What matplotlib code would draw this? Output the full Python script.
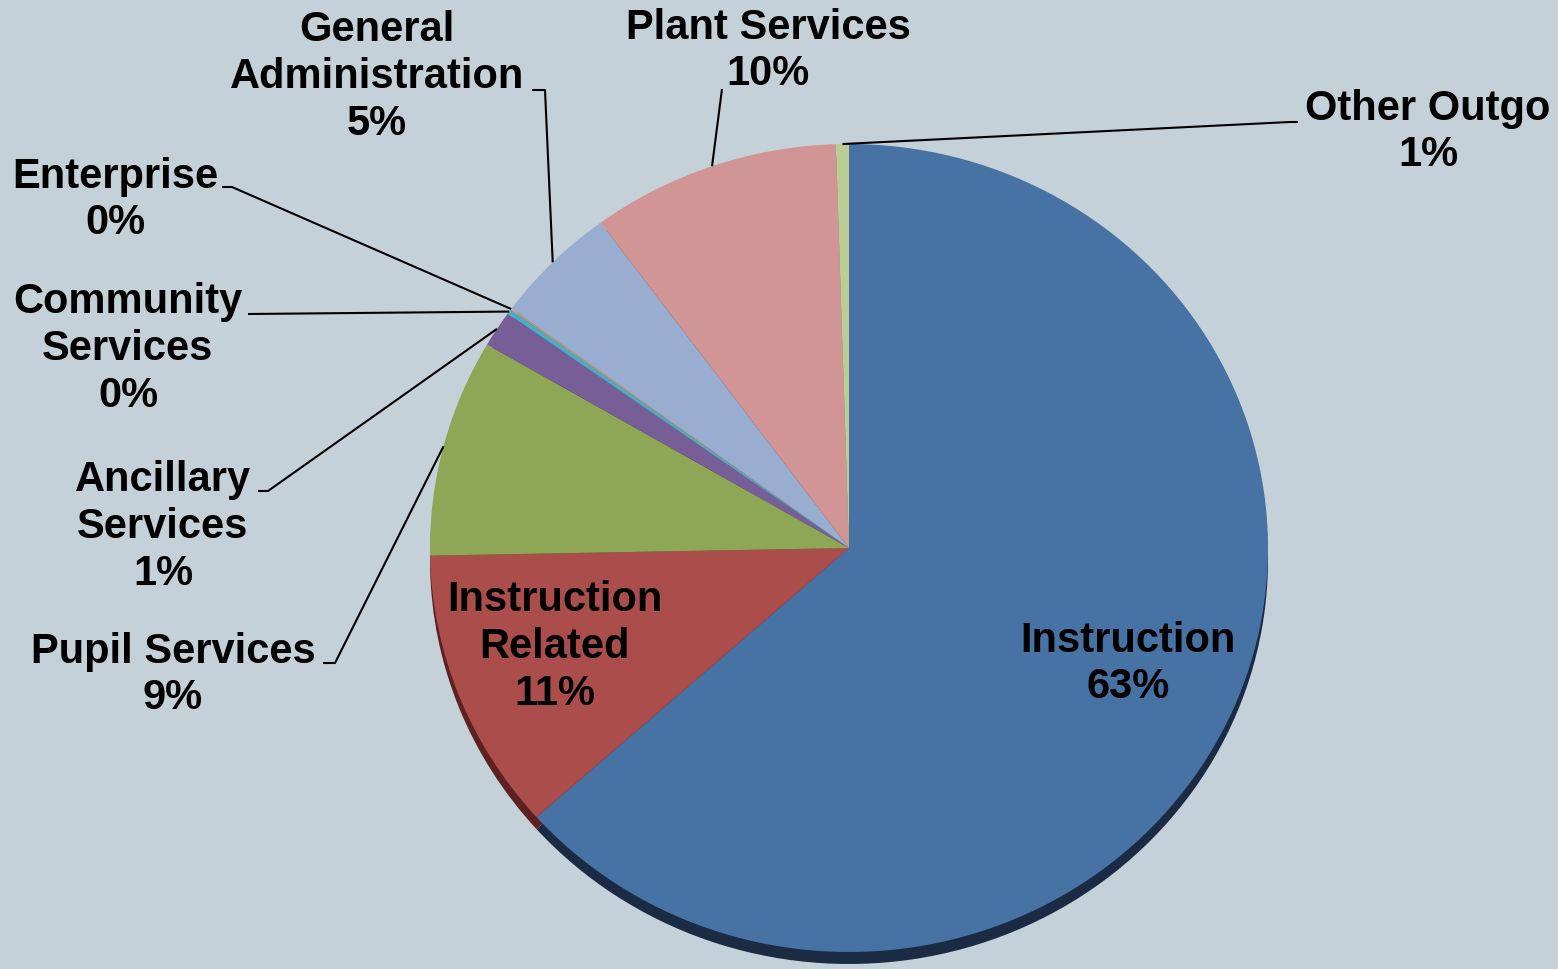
import numpy as np
import matplotlib
matplotlib.use('Agg')
import matplotlib.pyplot as plt

# data (clockwise from 12 o'clock)
categories = ["Instruction", "Instruction\nRelated", "Pupil Services", "Ancillary\nServices",
              "Community\nServices", "Enterprise", "General\nAdministration",
              "Plant Services", "Other Outgo"]
values = [63.4, 11.3, 8.7, 1.45, 0.2, 0.05, 4.8, 9.6, 0.5]
pct_labels = ["63%", "11%", "9%", "1%", "0%", "0%", "5%", "10%", "1%"]

colors = ["#4672A4", "#AA4D4B", "#8EA756", "#785E96", "#4BACC6", "#F79646",
          "#98ADD0", "#D09594", "#B9CD94"]
side_colors = ["#1B2B44", "#5E2121", "#3F4D22", "#3A2C4A", "#215566", "#7A4A20",
               "#4A5670", "#6B4544", "#5A6444"]

W, H = 1558, 969
cx, cy, rx, ry = 849, 548, 419, 404   # pie centre / radii in pixels


def px(x, y):
    # pixel position -> data units of the pie axes
    return (x - cx) / rx, (cy - y) / ry


fig = plt.figure(figsize=(W / 100, H / 100), dpi=100)
fig.patch.set_facecolor("#C5D1D8")
ax = fig.add_axes([0, 0, 1, 1])
ax.set_facecolor("#C5D1D8")

# thin side of the tilted pie
ax.pie(values, colors=side_colors, startangle=90, counterclock=False,
       center=(0, -12 / ry), wedgeprops=dict(linewidth=0))
wedges, _ = ax.pie(values, colors=colors, startangle=90, counterclock=False,
                   wedgeprops=dict(linewidth=0))

ax.set_aspect('auto')
ax.set_xlim(-cx / rx, (W - cx) / rx)
ax.set_ylim(-(H - cy) / ry, cy / ry)
ax.axis('off')

font = dict(family="Liberation Sans", weight="bold", size=30, color="black",
            ha="center", va="center", multialignment="center", linespacing=1.22)

# label centres (pixels)
label_pos = [(1128, 664), (555, 647), (173, 675), (163, 527), (128, 349),
             (115, 200), (377, 77), (768, 51), (1428, 132)]
# leader start (pixels) and short horizontal stub end; None -> inside label
leader_start = [None, None, [(323, 663), (335, 663)], [(258, 491), (268, 491)],
                [(248, 314)], [(222, 187), (232, 187)], [(532, 90), (545, 90)],
                [(722, 89)], [(1298, 122), (1290, 122)]]

for i, w in enumerate(wedges):
    lx, ly = px(*label_pos[i])
    ax.text(lx, ly, categories[i] + "\n" + pct_labels[i], **font)
    if leader_start[i] is None:
        continue
    mid = np.deg2rad((w.theta1 + w.theta2) / 2)
    pts = [px(*p) for p in leader_start[i]]
    pts.append((np.cos(mid), np.sin(mid)))
    xs, ys = zip(*pts)
    ax.plot(xs, ys, color="black", lw=1.5, solid_capstyle="butt")

fig.savefig("out.png", dpi=100, facecolor=fig.get_facecolor())
